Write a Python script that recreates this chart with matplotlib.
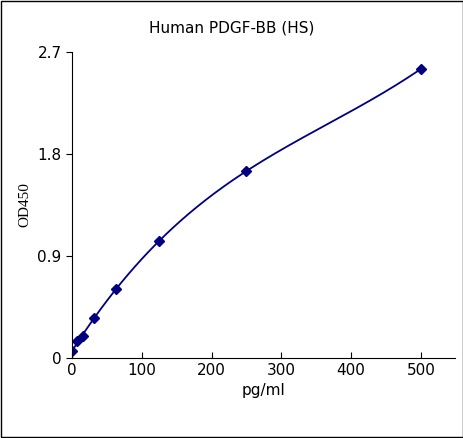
import matplotlib.pyplot as plt
import numpy as np

conc = [0, 7.8, 15.6, 31.25, 62.5, 125, 250, 500]
od450 = [0.06, 0.15, 0.19, 0.35, 0.61, 1.03, 1.65, 2.55]
x_ticks = [0, 100, 200, 300, 400, 500]
y_ticks = [0, 0.9, 1.8, 2.7]
y_labels = ["0", "0.9", "1.8", "2.7"]

fig = plt.figure(figsize=(4.64, 4.38), dpi=100)
fig.patches.append(plt.Rectangle((0.002, 0.002), 0.996, 0.996, transform=fig.transFigure,
                                 fill=False, edgecolor="black", linewidth=1))
ax = fig.add_axes([72 / 464, 80 / 438, 383 / 464, 306 / 438])

# smooth fitted curve
coef = np.polyfit(conc, od450, 3)
xs = np.linspace(0, 500, 300)
ax.plot(xs, np.polyval(coef, xs), color="#000080", linewidth=1.3)
ax.plot(conc, od450, linestyle="none", marker="D", markersize=5.5, color="#000080")

ax.set_xlim(0, 549)
ax.set_ylim(0, 2.7)
ax.set_xticks(x_ticks)
ax.set_yticks(y_ticks)
ax.set_yticklabels(y_labels)
ax.tick_params(axis="x", labelsize=11, direction="in", length=4)
ax.tick_params(axis="y", labelsize=11, direction="out", length=4)
for s in ["top", "right"]:
    ax.spines[s].set_visible(False)
ax.set_xlabel("pg/ml", fontsize=11)
ax.set_ylabel("OD450", fontsize=11, family="Liberation Serif")
fig.text(0.5, 0.925, "Human PDGF-BB (HS)", ha="center", fontsize=11)

fig.savefig("out.png")
